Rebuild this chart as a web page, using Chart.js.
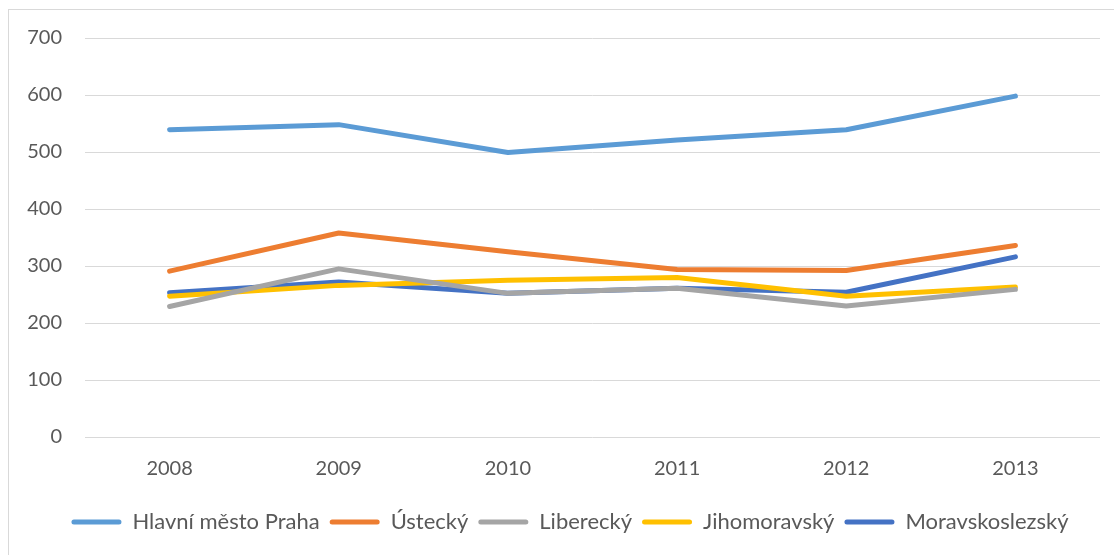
<!DOCTYPE html>
<html>
<head>
<meta charset="utf-8">
<script src="https://cdn.jsdelivr.net/npm/chart.js@4/dist/chart.umd.min.js"></script>
<style>
html,body{margin:0;padding:0;background:#fff;}
#wrap{width:1114px;height:555px;position:relative;}
</style>
</head>
<body>
<div id="wrap"><canvas id="c" width="1114" height="555"></canvas></div>
<script>
const years = ['2008', '2009', '2010', '2011', '2012', '2013'];
const seriesNames = ['Hlavní město Praha', 'Ústecký', 'Liberecký', 'Jihomoravský', 'Moravskoslezský'];
const praha = [539, 548, 499, 521, 539, 598];
const ustecky = [291, 358, 325, 294, 292, 336];
const liberecky = [229, 295, 252, 261, 230, 259];
const jihomoravsky = [247, 266, 275, 280, 247, 263];
const moravskoslezsky = [253, 272, 252, 261, 254, 316];
const colors = ['#5B9BD5', '#ED7D31', '#A5A5A5', '#FFC000', '#4472C4'];
const yMin = 0, yMax = 700, yStep = 100;

const allSeries = [praha, ustecky, liberecky, jihomoravsky, moravskoslezsky];
const FONT = 'Lato, "Open Sans", sans-serif';
const TXT = '#595959';

const framePlugin = {
  id: 'frame',
  beforeDraw(chart) {
    const ctx = chart.ctx;
    ctx.save();
    ctx.fillStyle = '#fff';
    ctx.fillRect(0, 0, chart.width, chart.height);
    ctx.strokeStyle = '#d9d9d9';
    ctx.lineWidth = 1;
    ctx.strokeRect(8.5, 9.5, 1200, 600);
    ctx.restore();
  }
};

const legendShift = {
  id: 'legendShift',
  afterLayout(chart) {
    if (chart.legend) {
      chart.legend.left += 20;
      chart.legend.right += 20;
    }
  }
};

new Chart(document.getElementById('c'), {
  type: 'line',
  data: {
    labels: years,
    datasets: allSeries.map((d, i) => ({
      label: seriesNames[i],
      data: d,
      borderColor: colors[i],
      backgroundColor: colors[i],
      borderWidth: 5,
      borderCapStyle: 'round',
      borderJoinStyle: 'round',
      pointRadius: 0,
      pointHoverRadius: 0,
      tension: 0,
      fill: false
    }))
  },
  options: {
    responsive: false,
    animation: false,
    events: [],
    layout: { padding: { left: 0, right: 14, top: 38, bottom: 12 } },
    scales: {
      x: {
        offset: true,
        grid: { display: false, drawTicks: false },
        border: { display: false },
        ticks: { color: TXT, font: { family: FONT, size: 20 }, padding: 20, maxRotation: 0 },
        afterFit(s) { s.height = 64; }
      },
      y: {
        min: yMin, max: yMax,
        grid: { color: '#d9d9d9', lineWidth: 1, drawTicks: false },
        border: { display: false },
        ticks: { stepSize: yStep, color: TXT, font: { family: FONT, size: 20 }, padding: 23 },
        afterFit(s) { s.width = 85; }
      }
    },
    plugins: {
      tooltip: { enabled: false },
      legend: {
        position: 'bottom',
        labels: {
          color: TXT,
          font: { family: FONT, size: 22 },
          boxWidth: 50,
          boxHeight: 5,
          useBorderRadius: true,
          borderRadius: 2.5,
          padding: 10,
          generateLabels(chart) {
            return Chart.defaults.plugins.legend.labels.generateLabels(chart).map(l => ({
              ...l, lineWidth: 0, fillStyle: l.strokeStyle
            }));
          }
        }
      }
    }
  },
  plugins: [framePlugin, legendShift]
});
</script>
</body>
</html>
